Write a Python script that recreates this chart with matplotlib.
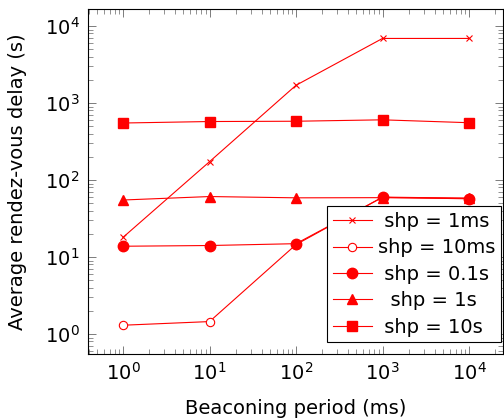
import matplotlib.pyplot as plt
import numpy as np

periods = [1, 10, 100, 1000, 10000]

shp_1ms = [18, 173, 1700, 6900, 6900]
shp_10ms = [1.3, 1.45, 14.5, 60, 58]
shp_01s = [13.8, 14.1, 14.9, 59.5, 57]
shp_1s = [55, 61, 58.7, 59, 58]
shp_10s = [550, 575, 580, 605, 555]

labels = [" shp = 1ms", "shp = 10ms", " shp = 0.1s", "  shp = 1s", " shp = 10s"]

fig = plt.figure(figsize=(5.04, 4.2), dpi=100)
ax = fig.add_axes([0.1746, 0.1571, 0.8234, 0.8207])

red = "#ff0000"
ax.plot(periods, shp_1ms, color=red, lw=0.8, marker="x", ms=5, mew=0.8, label=labels[0])
ax.plot(periods, shp_10ms, color=red, lw=0.8, marker="o", ms=6, mfc="white", mew=0.8, label=labels[1])
ax.plot(periods, shp_01s, color=red, lw=0.8, marker="o", ms=7.5, label=labels[2])
ax.plot(periods, shp_1s, color=red, lw=0.8, marker="^", ms=6.5, label=labels[3])
ax.plot(periods, shp_10s, color=red, lw=0.8, marker="s", ms=7, label=labels[4])

ax.set_xscale("log")
ax.set_yscale("log")
ax.set_xlim(10 ** -0.405, 10 ** 4.393)
ax.set_ylim(10 ** -0.26, 10 ** 4.217)

ax.tick_params(which="both", direction="in", top=True, right=True, color="#666666")
ax.tick_params(which="major", length=6, width=0.6, labelsize=14, pad=6)
ax.tick_params(which="minor", length=3.5, width=0.5)
for s in ax.spines.values():
    s.set_linewidth(0.8)

ax.set_xlabel("Beaconing period (ms)", fontsize=14)
ax.set_ylabel("Average rendez-vous delay (s)", fontsize=14)
ax.xaxis.set_label_coords(0.5, -0.157)
ax.xaxis.label.set_va("center")
ax.yaxis.set_label_coords(-0.169, 0.5)
ax.yaxis.label.set_va("center")

leg = ax.legend(loc="upper left", bbox_to_anchor=(0.576, 0.429), fontsize=14,
                fancybox=False, edgecolor="black", framealpha=1,
                handlelength=2.0, borderpad=0.3, labelspacing=0.38,
                handletextpad=0.3, borderaxespad=0)
leg.get_frame().set_linewidth(0.8)

fig.savefig("out.png", dpi=100)
